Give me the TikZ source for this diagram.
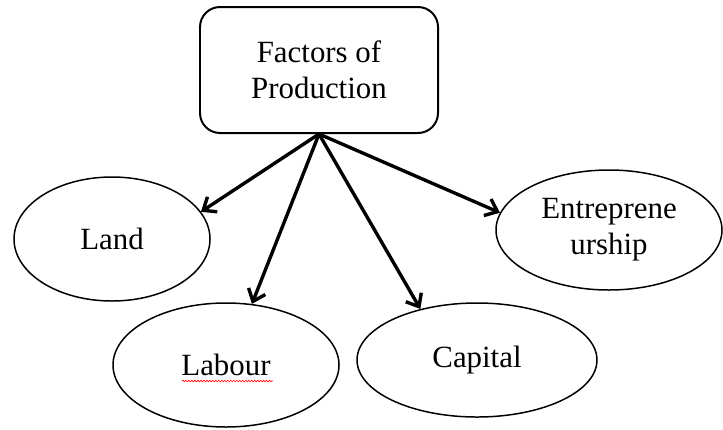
\documentclass[tikz,border=0pt]{standalone}
\usepackage{fontspec}
\setmainfont{Liberation Serif}
\usetikzlibrary{shapes.geometric,arrows.meta,decorations.pathmorphing}
\tikzstyle{headStyle}=[shape = rectangle, rounded corners = 20bp, minimum width = 238bp, minimum height = 126bp, inner sep = 0pt, line width = 2pt, draw, align = center]
\tikzstyle{factorStyle}=[shape = ellipse, inner sep = 0pt, line width = 1.5pt, draw, align = center]

\begin{document}
\begin{tikzpicture}[x = 1bp, y = -1bp, font = \fontsize{31}{36}\selectfont]
\tikzstyle{arrowStyle}=[line width = 3.4pt, -{Straight Barb[length = 11pt, width = 18pt]}]
\tikzstyle{squiggleStyle}=[red, line width = 0.6pt, decorate, decoration = {snake, amplitude = 0.8pt, segment length = 3pt}]
\useasboundingbox (0,0) rectangle (723,429);
\node[headStyle] (prod) at (319,70) {Factors of\\Production};
\node[factorStyle, minimum width = 196bp, minimum height = 124bp] (land) at (112,239) {Land};
\node[factorStyle, minimum width = 226bp, minimum height = 124bp] (labour) at (226,365) {Labour};
\node[factorStyle, minimum width = 240bp, minimum height = 114bp] (capital) at (477,360) {Capital};
\node[factorStyle, minimum width = 226bp, minimum height = 120bp] (entre) at (609,230) {Entreprene\\urship};
\coordinate (sqA) at (182,381);
\coordinate (sqB) at (273,381);
\draw[arrowStyle] (prod.south) -- (land.17);
\draw[arrowStyle] (prod.south) -- (labour.67);
\draw[arrowStyle] (prod.south) -- (capital.138);
\draw[arrowStyle] (prod.south) -- (entre.171);
\draw[squiggleStyle] (sqA) -- (sqB);
\end{tikzpicture}
\end{document}
